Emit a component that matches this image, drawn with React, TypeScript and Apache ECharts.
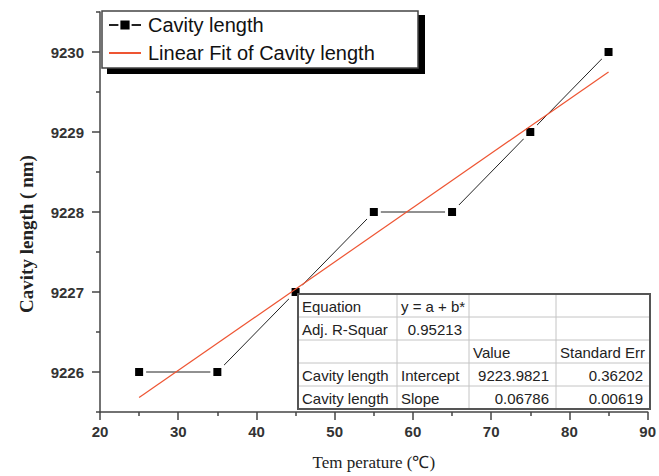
import React, { useEffect, useRef } from "react";
import * as echarts from "echarts";

const temperature = [25, 35, 45, 55, 65, 75, 85];
const cavityLength = [9226, 9226, 9227, 9228, 9228, 9229, 9230];
const fitX = [25, 85];
const fitY = [9225.68, 9229.75];
const yMajorTicks = [9226, 9227, 9228, 9229, 9230];
const yMinorTicks = [9225.5, 9226.5, 9227.5, 9228.5, 9229.5, 9230.5];
const tableRows: string[][] = [
  ["Equation", "y = a + b*", "", ""],
  ["Adj. R-Squar", "0.95213", "", ""],
  ["", "", "Value", "Standard Err"],
  ["Cavity length", "Intercept", "9223.9821", "0.36202"],
  ["Cavity length", "Slope", "0.06786", "0.00619"],
];
// alignment per row/col: l = left, r = right
const tableAlign: string[][] = [
  ["l", "l", "l", "l"],
  ["l", "r", "l", "l"],
  ["l", "l", "l", "l"],
  ["l", "l", "r", "r"],
  ["l", "l", "r", "r"],
];

export default function App() {
  const ref = useRef<HTMLDivElement>(null);
  useEffect(() => {
    if (!ref.current) return;
    const chart = echarts.init(ref.current, undefined, { renderer: "svg" });

    const tX = 298, tY = 294, tW = 352, tH = 115;
    const colEdges = [298, 397, 469, 556, 650];
    const rowEdges = [294, 317, 340, 363, 386, 409];
    const tableEls: any[] = [];
    tableEls.push({
      type: "rect",
      z: 20,
      shape: { x: tX, y: tY, width: tW, height: tH },
      style: { fill: "#fff", stroke: "none" },
    });
    for (let i = 1; i < colEdges.length - 1; i++) {
      tableEls.push({
        type: "line",
        z: 21,
        shape: { x1: colEdges[i], y1: tY, x2: colEdges[i], y2: tY + tH },
        style: { stroke: "#c4c4c4", lineWidth: 1 },
      });
    }
    for (let i = 1; i < rowEdges.length - 1; i++) {
      tableEls.push({
        type: "line",
        z: 21,
        shape: { x1: tX, y1: rowEdges[i], x2: tX + tW, y2: rowEdges[i] },
        style: { stroke: "#c4c4c4", lineWidth: 1 },
      });
    }
    tableEls.push({
      type: "rect",
      z: 22,
      shape: { x: tX, y: tY, width: tW, height: tH },
      style: { fill: "none", stroke: "#555", lineWidth: 2 },
    });
    tableRows.forEach((row, r) => {
      row.forEach((txt, c) => {
        if (!txt) return;
        const right = tableAlign[r][c] === "r";
        tableEls.push({
          type: "text",
          z: 23,
          x: right ? colEdges[c + 1] - 7 : colEdges[c] + 4,
          y: (rowEdges[r] + rowEdges[r + 1]) / 2 + 1,
          style: {
            text: txt,
            fontSize: 15,
            fontFamily: "Liberation Sans, Arial, sans-serif",
            fill: "#222",
            align: right ? "right" : "left",
            verticalAlign: "middle",
          },
        });
      });
    });

    chart.setOption({
      animation: false,
      backgroundColor: "#fff",
      grid: { left: 100, right: 9, top: 12, bottom: 64 },
      legend: {
        orient: "vertical",
        left: 108,
        top: 13,
        padding: 0,
        itemWidth: 32,
        itemHeight: 14,
        itemGap: 4,
        z: 10,
        textStyle: {
          fontSize: 20,
          lineHeight: 24,
          fontFamily: "Liberation Sans, Arial, sans-serif",
          color: "#111",
          padding: [0, 0, 0, 2],
        },
        data: [
          { name: "Cavity length" },
          {
            name: "Linear Fit of Cavity length",
            itemStyle: { color: "rgba(0,0,0,0)", borderWidth: 0, opacity: 0 },
          },
        ],
      },
      xAxis: {
        type: "value",
        min: 20,
        max: 90,
        interval: 10,
        name: "Tem perature (℃)",
        nameLocation: "middle",
        nameGap: 42,
        nameTextStyle: {
          fontFamily: "Liberation Serif, Times New Roman, serif",
          fontSize: 17,
          color: "#222",
        },
        axisLine: { lineStyle: { color: "#444", width: 1.5 } },
        axisTick: { length: 8, lineStyle: { color: "#444", width: 1.5 } },
        minorTick: { show: true, splitNumber: 2, length: 4, lineStyle: { color: "#444", width: 1.5 } },
        axisLabel: {
          margin: 12,
          fontSize: 15,
          fontWeight: "bold",
          fontFamily: "Liberation Sans, Arial, sans-serif",
          color: "#333",
        },
        splitLine: { show: false },
      },
      yAxis: [
        {
          type: "value",
          min: 9225.5,
          max: 9230.5,
          axisLine: { lineStyle: { color: "#444", width: 1.5 } },
          axisTick: { length: 8, customValues: yMajorTicks, lineStyle: { color: "#444", width: 1.5 } },
          axisLabel: {
            customValues: yMajorTicks,
            formatter: (v: number) => String(v),
            margin: 16,
            fontSize: 15,
            fontWeight: "bold",
            fontFamily: "Liberation Sans, Arial, sans-serif",
            color: "#333",
          },
          splitLine: { show: false },
        },
        {
          type: "value",
          position: "left",
          min: 9225.5,
          max: 9230.5,
          axisLine: { show: false },
          axisTick: { show: true, length: 4, customValues: yMinorTicks, lineStyle: { color: "#444", width: 1.5 } },
          axisLabel: { show: false },
          splitLine: { show: false },
        },
      ],
      series: [
        {
          name: "Cavity length",
          type: "line",
          data: temperature.map((t, i) => [t, cavityLength[i]]),
          symbol: "rect",
          symbolSize: 11,
          lineStyle: { color: "#222", width: 1 },
          itemStyle: { color: "#000", borderColor: "#fff", borderWidth: 3 },
          z: 3,
        },
        {
          name: "Linear Fit of Cavity length",
          type: "line",
          data: fitX.map((x, i) => [x, fitY[i]]),
          symbol: "none",
          lineStyle: { color: "#ee5533", width: 1.2 },
          itemStyle: { color: "#ee5533" },
          z: 4,
        },
      ],
      graphic: [
        {
          type: "rect",
          z: 5,
          shape: { x: 107, y: 15, width: 318, height: 59 },
          style: { fill: "#000" },
        },
        {
          type: "rect",
          z: 6,
          shape: { x: 102, y: 11, width: 316, height: 57 },
          style: { fill: "#fff", stroke: "#444", lineWidth: 1.5 },
        },
        {
          type: "text",
          z: 6,
          x: 26,
          y: 234,
          rotation: Math.PI / 2,
          style: {
            text: "Cavity length ( nm)",
            fontSize: 19,
            fontWeight: "bold",
            fontFamily: "Liberation Serif, Times New Roman, serif",
            fill: "#222",
            align: "center",
            verticalAlign: "middle",
          },
        },
        ...tableEls,
      ],
    });
    return () => chart.dispose();
  }, []);
  return (
    <div
      ref={ref}
      style={{ position: "fixed", left: 0, top: 0, width: 659, height: 476 }}
    />
  );
}
